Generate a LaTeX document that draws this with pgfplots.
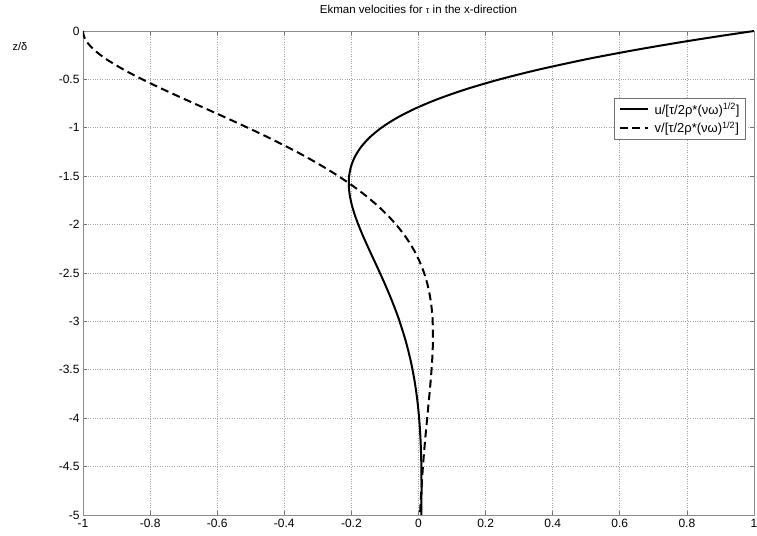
\documentclass[border=0pt]{standalone}
\usepackage{pgfplots}
\pgfplotsset{compat=1.18}
\usepackage{fontspec}
\setmainfont{Liberation Sans}
\begin{document}
\begin{tikzpicture}
\begin{axis}[
  scale only axis, width=671pt, height=484pt,
  xmin=-1, xmax=1, ymin=-5, ymax=0,
  xtick={-1,-0.8,...,1}, ytick={-5,-4.5,...,0},
  xticklabels={-1,-0.8,-0.6,-0.4,-0.2,0,0.2,0.4,0.6,0.8,1},
  yticklabels={-5,-4.5,-4,-3.5,-3,-2.5,-2,-1.5,-1,-0.5,0},
  tick align=inside, tick pos=both, major tick length=4pt,
  tick style={black!55, line width=0.7pt},
  axis line style={black!45, line width=0.9pt},
  grid=major, major grid style={black!35, dotted, line width=0.7pt},
  ticklabel style={font=\fontsize{12}{14}\selectfont},
  xticklabel style={yshift=-1pt},
  yticklabel style={xshift=0pt},
  title={Ekman velocities for {\fontsize{9}{10}\selectfont τ} in the x-direction},
  title style={font=\fontsize{11.5}{13}\selectfont, at={(0.5,1)}, anchor=south, yshift=8pt},
  ylabel={z/δ},
  ylabel style={font=\fontsize{11}{13}\selectfont, rotate=-90, at={(axis description cs:-0.094,0.967)}, anchor=center},
  legend style={at={(0.988,0.862)}, anchor=north east, draw=black!55, line width=0.7pt,
    font=\fontsize{13}{15}\selectfont, row sep=2pt, inner xsep=4pt, inner ysep=3pt},
  legend cell align=left,
  legend image code/.code={\draw[#1] (0pt,0pt) -- (28pt,0pt);},
]
\addplot[black, line width=2pt, smooth] coordinates {
(1,0) (0.90250,-0.05) (0.80999,-0.1) (0.72242,-0.15) (0.63975,-0.2) (0.56191,-0.25) (0.48880,-0.3)
(0.35637,-0.4) (0.24149,-0.5) (0.14307,-0.6) (0.05990,-0.7) (-0.00928,-0.8) (-0.06575,-0.9)
(-0.11079,-1.0) (-0.14567,-1.1) (-0.17158,-1.2) (-0.18970,-1.3) (-0.20110,-1.4) (-0.20679,-1.5)
(-0.20771,-1.6) (-0.20470,-1.7) (-0.19853,-1.8) (-0.18989,-1.9) (-0.17938,-2.0) (-0.16753,-2.1)
(-0.15479,-2.2) (-0.14156,-2.3) (-0.12817,-2.4) (-0.11489,-2.5) (-0.10193,-2.6) (-0.08948,-2.7)
(-0.07767,-2.8) (-0.06659,-2.9) (-0.05631,-3.0) (-0.03831,-3.2) (-0.02374,-3.4) (-0.01241,-3.6)
(-0.00401,-3.8) (0.00189,-4.0) (0.00572,-4.2) (0.00791,-4.4) (0.00886,-4.6) (0.00892,-4.8) (0.00837,-5.0)
};
\addlegendentry{\hspace{4pt}u/[τ/2ρ*(νω)\textsuperscript{1/2}]}
\addplot[black, line width=2pt, dash pattern=on 8pt off 4.5pt, smooth] coordinates {
(-1,0) (-0.99758,-0.05) (-0.99064,-0.1) (-0.97966,-0.15) (-0.96507,-0.2) (-0.94727,-0.25) (-0.92665,-0.3)
(-0.87844,-0.4) (-0.82307,-0.5) (-0.76284,-0.6) (-0.69972,-0.7) (-0.63538,-0.8) (-0.57120,-0.9)
(-0.50833,-1.0) (-0.44765,-1.1) (-0.38986,-1.2) (-0.33550,-1.3) (-0.28492,-1.4) (-0.23835,-1.5)
(-0.19592,-1.6) (-0.15762,-1.7) (-0.12342,-1.8) (-0.09318,-1.9) (-0.06674,-2.0) (-0.04388,-2.1)
(-0.02438,-2.2) (-0.00796,-2.3) (0.00562,-2.4) (0.01664,-2.5) (0.02536,-2.6) (0.03204,-2.7)
(0.03693,-2.8) (0.04026,-2.9) (0.04226,-3.0) (0.04307,-3.2) (0.04079,-3.4) (0.03659,-3.6)
(0.03138,-3.8) (0.02583,-4.0) (0.02042,-4.2) (0.01546,-4.4) (0.01112,-4.6) (0.00748,-4.8) (0.00455,-5.0)
};
\addlegendentry{\hspace{4pt}v/[τ/2ρ*(νω)\textsuperscript{1/2}]}
\end{axis}
\pgfresetboundingbox
\path (-83pt,-20pt) rectangle (674pt,515pt);
\end{tikzpicture}
\end{document}
